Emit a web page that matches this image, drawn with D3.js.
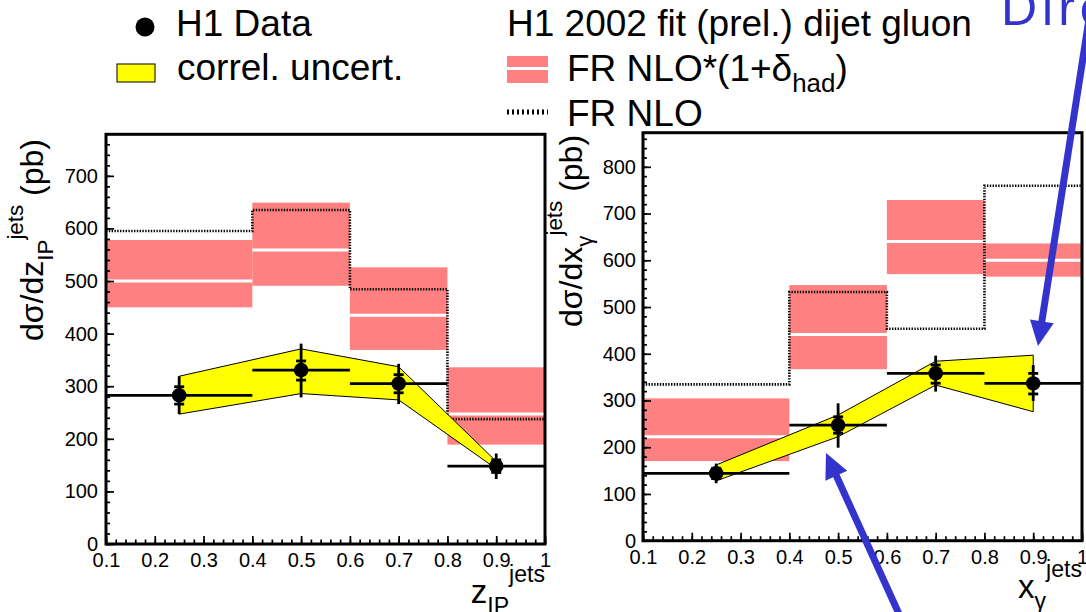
<!DOCTYPE html>
<html><head><meta charset="utf-8">
<script src="https://cdn.jsdelivr.net/npm/d3@7"></script>
<style>
html,body{margin:0;padding:0;background:#fff;}
svg{display:block;}
text{font-family:"Liberation Sans",Arial,Helvetica,sans-serif;fill:#000;white-space:pre;}
</style>
</head><body>
<svg id="c" width="1086" height="612"></svg>
<script>
// ---------------- data ----------------
const binEdges   = [0.1, 0.4, 0.6, 0.8, 1.0];
const binCenters = [0.25, 0.5, 0.7, 0.9];
const xTickValues = [0.1, 0.2, 0.3, 0.4, 0.5, 0.6, 0.7, 0.8, 0.9, 1.0];
const xTickLabels = ["0.1","0.2","0.3","0.4","0.5","0.6","0.7","0.8","0.9","1"];
const zTickValues = [0, 100, 200, 300, 400, 500, 600, 700];
const zTickLabels = ["0","100","200","300","400","500","600","700"];
const gTickValues = [0, 100, 200, 300, 400, 500, 600, 700, 800];
const gTickLabels = ["0","100","200","300","400","500","600","700","800"];

// left panel: d sigma / d z_IP
const zData       = [282.5, 330.6, 305.0, 148.0];
const zErrUp      = [319.0, 381.0, 342.6, 172.0];
const zErrDown    = [247.0, 278.7, 266.0, 123.5];
const zStatUp     = [299.0, 348.0, 322.0, 160.0];
const zStatDown   = [266.0, 311.6, 287.5, 136.0];
const zHadCentral = [500.0, 559.0, 435.0, 247.0];
const zHadUp      = [578.0, 649.0, 526.0, 336.0];
const zHadDown    = [450.0, 491.0, 369.0, 189.0];
const zNlo        = [595.0, 635.0, 484.5, 237.5];
const zBandUp     = [319.0, 371.0, 337.0, 157.0];
const zBandDown   = [247.0, 286.0, 274.0, 143.0];

// right panel: d sigma / d x_gamma
const gData       = [144.0, 247.4, 358.0, 336.5];
const gErrUp      = [165.0, 294.0, 396.0, 376.0];
const gErrDown    = [123.0, 199.0, 319.0, 299.0];
const gStatUp     = [155.0, 265.0, 376.0, 358.0];
const gStatDown   = [133.0, 230.0, 337.0, 314.0];
const gHadCentral = [222.5, 441.0, 640.0, 600.0];
const gHadUp      = [304.5, 547.0, 729.0, 636.0];
const gHadDown    = [170.4, 367.0, 570.4, 565.0];
const gNlo        = [334.4, 532.0, 453.5, 759.4];
const gBandUp     = [162.0, 269.0, 384.0, 397.0];
const gBandDown   = [128.0, 222.5, 333.0, 276.0];

// ---------------- style ----------------
const RED = "#ff8080", YEL = "#ffff00", BLUE = "#3434cc";
const svg = d3.select("#c");

// sequential rich text: {t}, {sub}, {sup}
function richText(parent, x, y, size, parts, opts) {
  opts = opts || {};
  const g0 = parent.append("g").attr("transform", `translate(${x},${y}) rotate(${opts.rot||0})`);
  const g = g0.append("g");
  let cur = 0;
  parts.forEach(p => {
    let t;
    if (p.t !== undefined) {
      t = g.append("text").attr("x", cur).attr("y", 0).attr("font-size", size).text(p.t);
    } else if (p.sub !== undefined) {
      t = g.append("text").attr("x", cur).attr("y", size*(p.shift||0.32)).attr("font-size", size*0.7).text(p.sub);
    } else {
      t = g.append("text").attr("x", cur).attr("y", -size*(p.shift||0.64)).attr("font-size", size*0.7).text(p.sup);
    }
    if (opts.fill) t.style("fill", opts.fill);
    cur += t.node().getComputedTextLength();
  });
  if (opts.anchor === "end") g.attr("transform", `translate(${-cur},0)`);
  return g0;
}

function drawPanel(p) {
  const x = d3.scaleLinear().domain([0.1, 1.0]).range([p.left, p.right]);
  const y = d3.scaleLinear().domain([0, p.ymax]).range([p.bottom, p.top]);
  const g = svg.append("g");
  const bins = binCenters.map((c, i) => ({
    x0: binEdges[i], x1: binEdges[i+1], xc: c,
    v: p.data[i], eu: p.errUp[i], ed: p.errDown[i], su: p.statUp[i], sd: p.statDown[i],
    hc: p.hadC[i], hu: p.hadU[i], hd: p.hadD[i], nlo: p.nlo[i]
  }));

  // theory bands
  g.selectAll("rect.band").data(bins).join("rect").attr("class","band")
    .attr("x", d => x(d.x0)).attr("width", d => x(d.x1) - x(d.x0))
    .attr("y", d => y(d.hu)).attr("height", d => y(d.hd) - y(d.hu))
    .attr("fill", RED);
  g.selectAll("line.cen").data(bins).join("line").attr("class","cen")
    .attr("x1", d => x(d.x0)).attr("x2", d => x(d.x1))
    .attr("y1", d => y(d.hc)).attr("y2", d => y(d.hc))
    .attr("stroke", "#fff").attr("stroke-width", 3);

  // NLO dotted step histogram
  const step = [];
  bins.forEach(d => { step.push([x(d.x0), y(d.nlo)]); step.push([x(d.x1), y(d.nlo)]); });
  g.append("path").attr("d", d3.line()(step)).attr("fill", "none")
    .attr("stroke", "#000").attr("stroke-width", 2.6).attr("stroke-dasharray", "1.4,1.4");

  // correlated uncertainty band
  const poly = bins.map((d, i) => [x(d.xc), y(p.bandU[i])])
    .concat(bins.map((d, i) => [x(d.xc), y(p.bandD[i])]).reverse());
  g.append("path").attr("d", d3.line()(poly) + "Z")
    .attr("fill", YEL).attr("stroke", "#000").attr("stroke-width", 1);

  // data
  g.selectAll("line.hb").data(bins).join("line").attr("class","hb")
    .attr("x1", d => x(d.x0)).attr("x2", d => x(d.x1))
    .attr("y1", d => y(d.v)).attr("y2", d => y(d.v))
    .attr("stroke", "#000").attr("stroke-width", 2.8);
  g.selectAll("line.vb").data(bins).join("line").attr("class","vb")
    .attr("x1", d => x(d.xc)).attr("x2", d => x(d.xc))
    .attr("y1", d => y(d.eu)).attr("y2", d => y(d.ed))
    .attr("stroke", "#000").attr("stroke-width", 2.8);
  ["su","sd"].forEach(k => {
    g.selectAll("line.t"+k).data(bins).join("line").attr("class","t"+k)
      .attr("x1", d => x(d.xc) - 5).attr("x2", d => x(d.xc) + 5)
      .attr("y1", d => y(d[k])).attr("y2", d => y(d[k]))
      .attr("stroke", "#000").attr("stroke-width", 2.8);
  });
  g.selectAll("circle.pt").data(bins).join("circle").attr("class","pt")
    .attr("cx", d => x(d.xc)).attr("cy", d => y(d.v)).attr("r", 7.3).attr("fill", "#000");

  // axes
  const xMinor = d3.range(0, 46).map(i => 0.1 + i * 0.02).filter(v => v <= 1.0001);
  const yMinor = d3.range(0, Math.floor(p.ymax / 20) + 1).map(i => i * 20);
  const ax = g.append("g").attr("transform", `translate(0,${p.bottom})`);
  ax.call(d3.axisBottom(x).tickValues(xMinor).tickSize(-4.5).tickFormat(""));
  ax.append("g").call(d3.axisBottom(x).tickValues(xTickValues).tickSize(-8).tickPadding(9)
    .tickFormat((d, i) => xTickLabels[i]));
  const ay = g.append("g").attr("transform", `translate(${p.left},0)`);
  ay.call(d3.axisLeft(y).tickValues(yMinor).tickSize(-4).tickFormat(""));
  ay.append("g").call(d3.axisLeft(y).tickValues(p.yTicks).tickSize(-8).tickPadding(p.ypad)
    .tickFormat((d, i) => p.yLabels[i]));
  g.selectAll(".domain").remove();
  g.selectAll(".tick line").attr("stroke", "#000").attr("stroke-width", 1.7);
  g.selectAll(".tick text").attr("font-size", 20).attr("font-family", "Liberation Sans, Arial, sans-serif").style("fill", "#000");

  // frame
  g.append("rect").attr("x", p.left).attr("y", p.top)
    .attr("width", p.right - p.left).attr("height", p.bottom - p.top)
    .attr("fill", "none").attr("stroke", "#000").attr("stroke-width", 3);

  // titles
  richText(g, p.ytx, p.yty, 32, p.ytitle, {rot: -90});
  richText(g, p.right, p.xty, 33, p.xtitle, {anchor: "end"});
}

drawPanel({
  left: 106, right: 545, top: 134.3, bottom: 544, ymax: 779,
  data: zData, errUp: zErrUp, errDown: zErrDown, statUp: zStatUp, statDown: zStatDown,
  hadC: zHadCentral, hadU: zHadUp, hadD: zHadDown, nlo: zNlo, bandU: zBandUp, bandD: zBandDown,
  yTicks: zTickValues, yLabels: zTickLabels, ypad: 8,
  ytx: 43, yty: 341, ytitle: [{t: "dσ/dz"}, {sub: "IP"}, {sup: "jets"}, {t: " (pb)"}],
  xty: 603, xtitle: [{t: "z"}, {sub: "IP"}, {sup: "jets"}]
});
drawPanel({
  left: 643, right: 1082, top: 132.7, bottom: 540.7, ymax: 873,
  data: gData, errUp: gErrUp, errDown: gErrDown, statUp: gStatUp, statDown: gStatDown,
  hadC: gHadCentral, hadU: gHadUp, hadD: gHadDown, nlo: gNlo, bandU: gBandUp, bandD: gBandDown,
  yTicks: gTickValues, yLabels: gTickLabels, ypad: 7,
  ytx: 582, yty: 327, ytitle: [{t: "dσ/dx"}, {sub: "γ"}, {sup: "jets"}, {t: " (pb)"}],
  xty: 598, xtitle: [{t: "x"}, {sub: "γ"}, {sup: "jets"}]
});

// ---------------- legend ----------------
const L = svg.append("g");
const LF = 37;
L.append("circle").attr("cx", 145).attr("cy", 27).attr("r", 9.5).attr("fill", "#000");
richText(L, 176, 36, LF, [{t: "H1 Data"}]);
L.append("rect").attr("x", 117).attr("y", 64).attr("width", 38).attr("height", 18)
  .attr("fill", YEL).attr("stroke", "#000").attr("stroke-width", 1);
richText(L, 177, 80, LF, [{t: "correl. uncert."}]);
richText(L, 507, 36, LF, [{t: "H1 2002 fit (prel.) dijet gluon"}]);
L.append("rect").attr("x", 507).attr("y", 56).attr("width", 41).attr("height", 27).attr("fill", RED);
L.append("line").attr("x1", 507).attr("x2", 548).attr("y1", 68.5).attr("y2", 68.5)
  .attr("stroke", "#fff").attr("stroke-width", 3);
richText(L, 567, 81, LF, [{t: "FR NLO*(1+δ"}, {sub: "had", shift: 0.3}, {t: ")"}]);
L.append("line").attr("x1", 507).attr("x2", 548).attr("y1", 112).attr("y2", 112)
  .attr("stroke", "#000").attr("stroke-width", 5).attr("stroke-dasharray", "2,3");
richText(L, 567, 126, LF, [{t: "FR NLO"}]);

// ---------------- annotations ----------------
const A = svg.append("g");
A.append("text").attr("x", 1001).attr("y", 25).attr("font-size", 50)
  .attr("letter-spacing", 5).style("fill", BLUE).text("Direct");
function arrow(x0, y0, x1, y1) {
  const ang = Math.atan2(y1 - y0, x1 - x0);
  const hl = 25, hw = 12;
  const bx = x1 - hl * Math.cos(ang), by = y1 - hl * Math.sin(ang);
  A.append("line").attr("x1", x0).attr("y1", y0).attr("x2", bx + 3*Math.cos(ang)).attr("y2", by + 3*Math.sin(ang))
    .attr("stroke", BLUE).attr("stroke-width", 7);
  const px = -Math.sin(ang), py = Math.cos(ang);
  A.append("path").attr("d", `M${x1},${y1}L${bx + hw*px},${by + hw*py}L${bx - hw*px},${by - hw*py}Z`).attr("fill", BLUE);
}
arrow(1092, 0, 1038, 346);
arrow(904, 625, 826, 453);
</script>
</body></html>
